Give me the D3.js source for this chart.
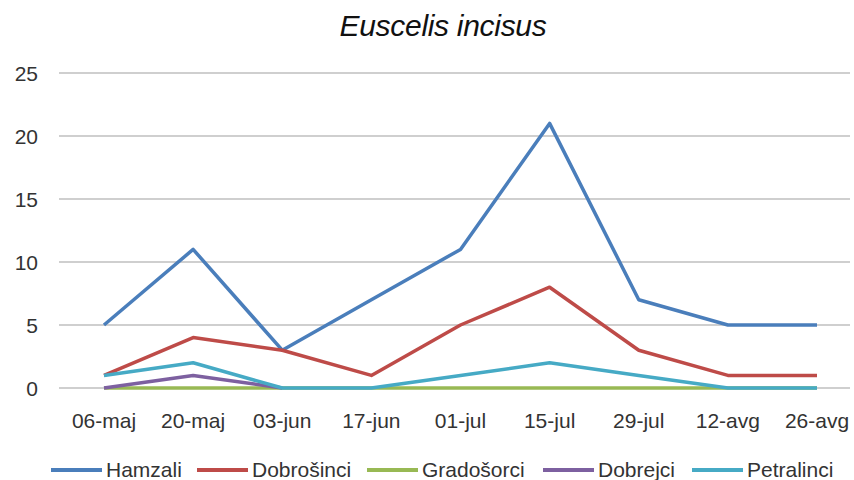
<!DOCTYPE html>
<html>
<head>
<meta charset="utf-8">
<script src="https://cdn.jsdelivr.net/npm/d3@7"></script>
<style>
  body { margin: 0; background: #fff; }
  svg { display: block; font-family: "Liberation Sans", Arial, sans-serif; }
</style>
</head>
<body>
<div id="chart"></div>
<script>
var width = 854,
    height = 480;

var dates = ['06-maj', '20-maj', '03-jun', '17-jun', '01-jul', '15-jul', '29-jul', '12-avg', '26-avg'];
var hamzali    = [5, 11, 3, 7, 11, 21, 7, 5, 5];
var dobrosinci = [1, 4, 3, 1, 5, 8, 3, 1, 1];
var gradosorci = [0, 0, 0, 0, 0, 0, 0, 0, 0];
var dobrejci   = [0, 1, 0, null, null, null, null, null, null];
var petralinci = [1, 2, 0, 0, 1, 2, 1, 0, 0];
var yTicks = [0, 5, 10, 15, 20, 25];

var series = [
    {name: 'Hamzali', values: hamzali, color: '#4a7ebb'},
    {name: 'Dobrošinci', values: dobrosinci, color: '#be4b48'},
    {name: 'Gradošorci', values: gradosorci, color: '#98b954'},
    {name: 'Dobrejci', values: dobrejci, color: '#7d60a0'},
    {name: 'Petralinci', values: petralinci, color: '#46aac5'}
];

var svg = d3.select('#chart').append('svg')
    .attr('width', width)
    .attr('height', height);

var x = d3.scalePoint()
    .domain(dates)
    .range([104, 817]);

var y = d3.scaleLinear()
    .domain([0, 25])
    .range([388, 73]);

// title
svg.append('text')
    .attr('x', 443)
    .attr('y', 36)
    .attr('text-anchor', 'middle')
    .style('font-style', 'italic')
    .style('font-size', '30px')
    .style('letter-spacing', '-0.3px')
    .style('fill', '#111')
    .text('Euscelis incisus');

// gridlines
svg.append('g')
    .selectAll('line')
    .data(yTicks)
    .enter().append('line')
    .attr('x1', 59)
    .attr('x2', 850)
    .attr('y1', function(d) { return y(d); })
    .attr('y2', function(d) { return y(d); })
    .style('stroke', '#cfcfcf')
    .style('stroke-width', 2);

// y labels
svg.append('g')
    .selectAll('text')
    .data(yTicks)
    .enter().append('text')
    .attr('x', 38)
    .attr('y', function(d) { return y(d) + 8; })
    .attr('text-anchor', 'end')
    .style('font-size', '21px')
    .style('fill', '#333')
    .text(function(d) { return d; });

// x labels
svg.append('g')
    .selectAll('text')
    .data(dates)
    .enter().append('text')
    .attr('x', function(d) { return x(d); })
    .attr('y', 428)
    .attr('text-anchor', 'middle')
    .style('font-size', '21px')
    .style('fill', '#333')
    .text(function(d) { return d; });

var line = d3.line()
    .defined(function(d) { return d !== null; })
    .x(function(d, i) { return x(dates[i]); })
    .y(function(d) { return y(d); });

svg.append('g')
    .selectAll('path')
    .data(series)
    .enter().append('path')
    .attr('d', function(d) { return line(d.values); })
    .style('fill', 'none')
    .style('stroke', function(d) { return d.color; })
    .style('stroke-width', 3.5)
    .style('stroke-linejoin', 'round');

// legend
var legendX = [51, 197, 367, 543, 692];
var legend = svg.append('g')
    .selectAll('g')
    .data(series)
    .enter().append('g')
    .attr('transform', function(d, i) { return 'translate(' + legendX[i] + ',470)'; });

legend.append('line')
    .attr('x1', 0)
    .attr('x2', 51)
    .style('stroke', function(d) { return d.color; })
    .style('stroke-width', 4);

legend.append('text')
    .attr('x', 55)
    .attr('y', 7)
    .style('font-size', '21px')
    .style('fill', '#333')
    .text(function(d) { return d.name; });
</script>
</body>
</html>
